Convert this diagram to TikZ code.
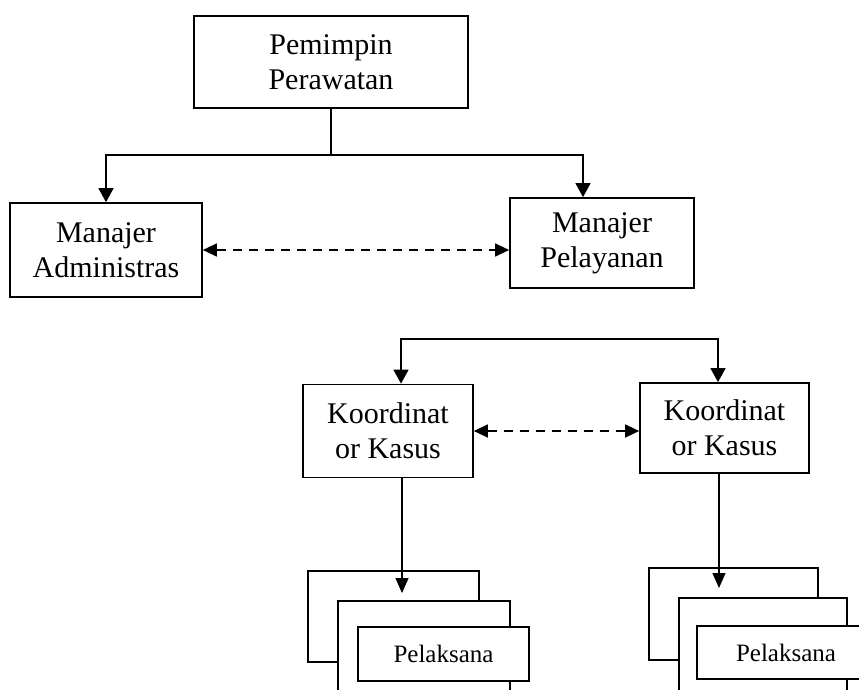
\documentclass[tikz,border=0pt]{standalone}
\usepackage{fontspec}
\setmainfont{Liberation Serif}
\usetikzlibrary{arrows.meta,calc}
\tikzset{
  box/.style={draw, line width=1.7pt, fill=white, inner sep=0pt, align=center,
    font=\fontsize{30}{35}\selectfont},
  smallbox/.style={box, font=\fontsize{25}{30}\selectfont},
  link/.style={line width=1.4pt},
  solidtip/.style={-{Triangle[width=15pt,length=14pt]}},
  bothtips/.style={{Triangle[width=15pt,length=14pt]}-{Triangle[width=15pt,length=14pt]}},
  peer/.style={line width=1.4pt, dash pattern=on 9pt off 7pt,
    {Triangle[width=13pt,length=14pt]}-{Triangle[width=13pt,length=14pt]}},
}
\begin{document}
\begin{tikzpicture}[x=1pt,y=-1pt]
  \path[use as bounding box] (0,0) rectangle (859,690);
  \clip (0,0) rectangle (859,690);

  % top level
  \node[box, minimum width=274pt, minimum height=92pt] (pem) at (331,62) {Pemimpin\\Perawatan};
  \node[box, minimum width=192pt, minimum height=94pt] (adm) at (106,250) {Manajer\\Administras};
  \node[box, minimum width=184pt, minimum height=90pt] (pel) at (602,243) {Manajer\\Pelayanan};

  % case coordinators
  \node[box, minimum width=170pt, minimum height=93pt] (k1) at (388,431) {Koordinat\\or Kasus};
  \node[box, minimum width=169pt, minimum height=90pt] (k2) at (724.5,428) {Koordinat\\or Kasus};

  % stacked staff boxes, left
  \node[box, minimum width=171pt, minimum height=91pt] (b1) at (393.5,616.5) {};
  \node[box, minimum width=172pt, minimum height=119pt] (b2) at (424,660.5) {};
  \node[smallbox, minimum width=171pt, minimum height=54pt] (b3) at (443.5,654) {Pelaksana};

  % stacked staff boxes, right
  \node[box, minimum width=169pt, minimum height=92pt] (c1) at (733.5,614) {};
  \node[box, minimum width=168pt, minimum height=122pt] (c2) at (763,659) {};
  \node[smallbox, minimum width=178pt, minimum height=53pt] (c3) at (786,652.5) {Pelaksana};

  % branch points and arrow ends
  \coordinate (tl) at (106,155);
  \coordinate (tr) at (583,155);
  \coordinate (ml) at (401,339);
  \coordinate (mr) at (718,339);
  \coordinate (a1) at (402,593);
  \coordinate (a2) at (719,588);

  % connectors
  \draw[link] (pem.south) -- (pem.south |- tl);
  \draw[link, bothtips] (tl |- adm.north) -- (tl) -- (tr) -- (tr |- pel.north);
  \draw[link, bothtips] (ml |- k1.north) -- (ml) -- (mr) -- (mr |- k2.north);
  \draw[peer] (adm.east) -- (adm.east -| pel.west);
  \draw[peer] (k1.east) -- (k1.east -| k2.west);
  \draw[link, -{Triangle[width=13pt,length=15pt]}] (k1.south -| a1) -- (a1);
  \draw[link, -{Triangle[width=13pt,length=15pt]}] (k2.south -| a2) -- (a2);
\end{tikzpicture}
\end{document}
